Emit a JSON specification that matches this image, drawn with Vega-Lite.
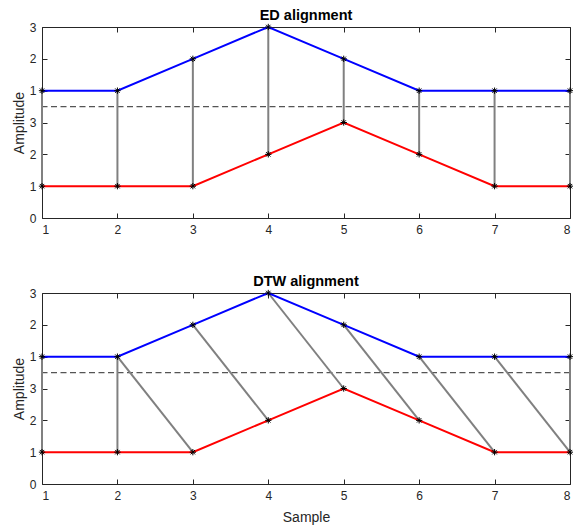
{
  "$schema": "https://vega.github.io/schema/vega-lite/v6.json",
  "background": "white",
  "padding": {"left": 12, "top": 7, "right": 2, "bottom": 2},
  "bounds": "flush",
  "spacing": 75,
  "config": {
    "font": "Liberation Sans",
    "view": {"stroke": null},
    "axis": {
      "domainColor": "#262626", "domainWidth": 1,
      "tickColor": "#262626", "tickSize": -5, "tickWidth": 1,
      "labelColor": "#262626", "labelFont": "Liberation Sans", "labelFontSize": 12,
      "titleFont": "Liberation Sans", "titleFontSize": 14, "titleFontWeight": "normal", "titleColor": "#262626",
      "grid": false
    },
    "title": {"font": "Liberation Sans", "fontSize": 14.5, "fontWeight": "bold", "color": "#000000", "offset": -2}
  },
  "datasets": {
    "series": [
      {"seq": "s1", "x": 1, "y": 4}, {"seq": "s1", "x": 2, "y": 4}, {"seq": "s1", "x": 3, "y": 5}, {"seq": "s1", "x": 4, "y": 6},
      {"seq": "s1", "x": 5, "y": 5}, {"seq": "s1", "x": 6, "y": 4}, {"seq": "s1", "x": 7, "y": 4}, {"seq": "s1", "x": 8, "y": 4},
      {"seq": "s2", "x": 1, "y": 1}, {"seq": "s2", "x": 2, "y": 1}, {"seq": "s2", "x": 3, "y": 1}, {"seq": "s2", "x": 4, "y": 2},
      {"seq": "s2", "x": 5, "y": 3}, {"seq": "s2", "x": 6, "y": 2}, {"seq": "s2", "x": 7, "y": 1}, {"seq": "s2", "x": 8, "y": 1}
    ],
    "edLinks": [
      {"x1": 1, "y1": 4, "x2": 1, "y2": 1}, {"x1": 2, "y1": 4, "x2": 2, "y2": 1},
      {"x1": 3, "y1": 5, "x2": 3, "y2": 1}, {"x1": 4, "y1": 6, "x2": 4, "y2": 2},
      {"x1": 5, "y1": 5, "x2": 5, "y2": 3}, {"x1": 6, "y1": 4, "x2": 6, "y2": 2},
      {"x1": 7, "y1": 4, "x2": 7, "y2": 1}, {"x1": 8, "y1": 4, "x2": 8, "y2": 1}
    ],
    "dtwLinks": [
      {"x1": 1, "y1": 4, "x2": 1, "y2": 1}, {"x1": 2, "y1": 4, "x2": 2, "y2": 1},
      {"x1": 2, "y1": 4, "x2": 3, "y2": 1}, {"x1": 3, "y1": 5, "x2": 4, "y2": 2},
      {"x1": 4, "y1": 6, "x2": 5, "y2": 3}, {"x1": 5, "y1": 5, "x2": 6, "y2": 2},
      {"x1": 6, "y1": 4, "x2": 7, "y2": 1}, {"x1": 7, "y1": 4, "x2": 8, "y2": 1},
      {"x1": 8, "y1": 4, "x2": 8, "y2": 1}
    ]
  },
  "vconcat": [
    {
      "title": "ED alignment",
      "width": 528, "height": 191,
      "layer": [
        {
          "data": {"values": [{}]},
          "mark": {"type": "rule", "color": "#555555", "strokeWidth": 1.3, "strokeDash": [6, 3.5]},
          "encoding": {"y": {"datum": 3.5, "type": "quantitative", "scale": {"domain": [0, 6], "nice": false}, "axis": null}}
        },
        {
          "data": {"name": "edLinks"},
          "mark": {"type": "rule", "color": "#808080", "strokeWidth": 2},
          "encoding": {
            "x": {"field": "x1", "type": "quantitative", "axis": null},
            "y": {"field": "y1", "type": "quantitative", "axis": null},
            "x2": {"field": "x2"},
            "y2": {"field": "y2"}
          }
        },
        {
          "data": {"name": "series"},
          "mark": {"type": "line", "strokeWidth": 2},
          "encoding": {
            "x": {"field": "x", "type": "quantitative", "scale": {"domain": [1, 8], "nice": false, "zero": false},
                  "axis": {"title": null, "values": [1,2,3,4,5,6,7,8], "labelPadding": 11, "format": "d"}},
            "y": {"field": "y", "type": "quantitative", "scale": {"domain": [0, 6], "nice": false},
                  "axis": {"title": "Amplitude", "values": [0,1,2,3,4,5,6], "labelPadding": 11, "titlePadding": 3,
                           "labelExpr": "datum.value > 3 ? datum.value - 3 : datum.value"}},
            "color": {"field": "seq", "type": "nominal", "scale": {"domain": ["s1", "s2"], "range": ["#0000ff", "#ff0000"]}, "legend": null}
          }
        },
        {
          "data": {"name": "series"},
          "mark": {"type": "point", "shape": "M-1,0L1,0M0,-1L0,1M-0.7,-0.7L0.7,0.7M-0.7,0.7L0.7,-0.7", "size": 40, "filled": false, "stroke": "#000000", "strokeWidth": 1, "opacity": 1},
          "encoding": {
            "x": {"field": "x", "type": "quantitative", "axis": {"orient": "top", "labels": false, "title": null, "values": [1,2,3,4,5,6,7,8]}},
            "y": {"field": "y", "type": "quantitative", "axis": {"orient": "right", "labels": false, "title": null, "values": [0,1,2,3,4,5,6]}}
          }
        }
      ],
      "resolve": {"axis": {"x": "independent", "y": "independent"}}
    },
    {
      "title": "DTW alignment",
      "width": 528, "height": 191,
      "layer": [
        {
          "data": {"values": [{}]},
          "mark": {"type": "rule", "color": "#555555", "strokeWidth": 1.3, "strokeDash": [6, 3.5]},
          "encoding": {"y": {"datum": 3.5, "type": "quantitative", "scale": {"domain": [0, 6], "nice": false}, "axis": null}}
        },
        {
          "data": {"name": "dtwLinks"},
          "mark": {"type": "rule", "color": "#808080", "strokeWidth": 2},
          "encoding": {
            "x": {"field": "x1", "type": "quantitative", "axis": null},
            "y": {"field": "y1", "type": "quantitative", "axis": null},
            "x2": {"field": "x2"},
            "y2": {"field": "y2"}
          }
        },
        {
          "data": {"name": "series"},
          "mark": {"type": "line", "strokeWidth": 2},
          "encoding": {
            "x": {"field": "x", "type": "quantitative", "scale": {"domain": [1, 8], "nice": false, "zero": false},
                  "axis": {"title": "Sample", "values": [1,2,3,4,5,6,7,8], "labelPadding": 11, "titlePadding": 9, "format": "d"}},
            "y": {"field": "y", "type": "quantitative", "scale": {"domain": [0, 6], "nice": false},
                  "axis": {"title": "Amplitude", "values": [0,1,2,3,4,5,6], "labelPadding": 11, "titlePadding": 3,
                           "labelExpr": "datum.value > 3 ? datum.value - 3 : datum.value"}},
            "color": {"field": "seq", "type": "nominal", "scale": {"domain": ["s1", "s2"], "range": ["#0000ff", "#ff0000"]}, "legend": null}
          }
        },
        {
          "data": {"name": "series"},
          "mark": {"type": "point", "shape": "M-1,0L1,0M0,-1L0,1M-0.7,-0.7L0.7,0.7M-0.7,0.7L0.7,-0.7", "size": 40, "filled": false, "stroke": "#000000", "strokeWidth": 1, "opacity": 1},
          "encoding": {
            "x": {"field": "x", "type": "quantitative", "axis": {"orient": "top", "labels": false, "title": null, "values": [1,2,3,4,5,6,7,8]}},
            "y": {"field": "y", "type": "quantitative", "axis": {"orient": "right", "labels": false, "title": null, "values": [0,1,2,3,4,5,6]}}
          }
        }
      ],
      "resolve": {"axis": {"x": "independent", "y": "independent"}}
    }
  ]
}
